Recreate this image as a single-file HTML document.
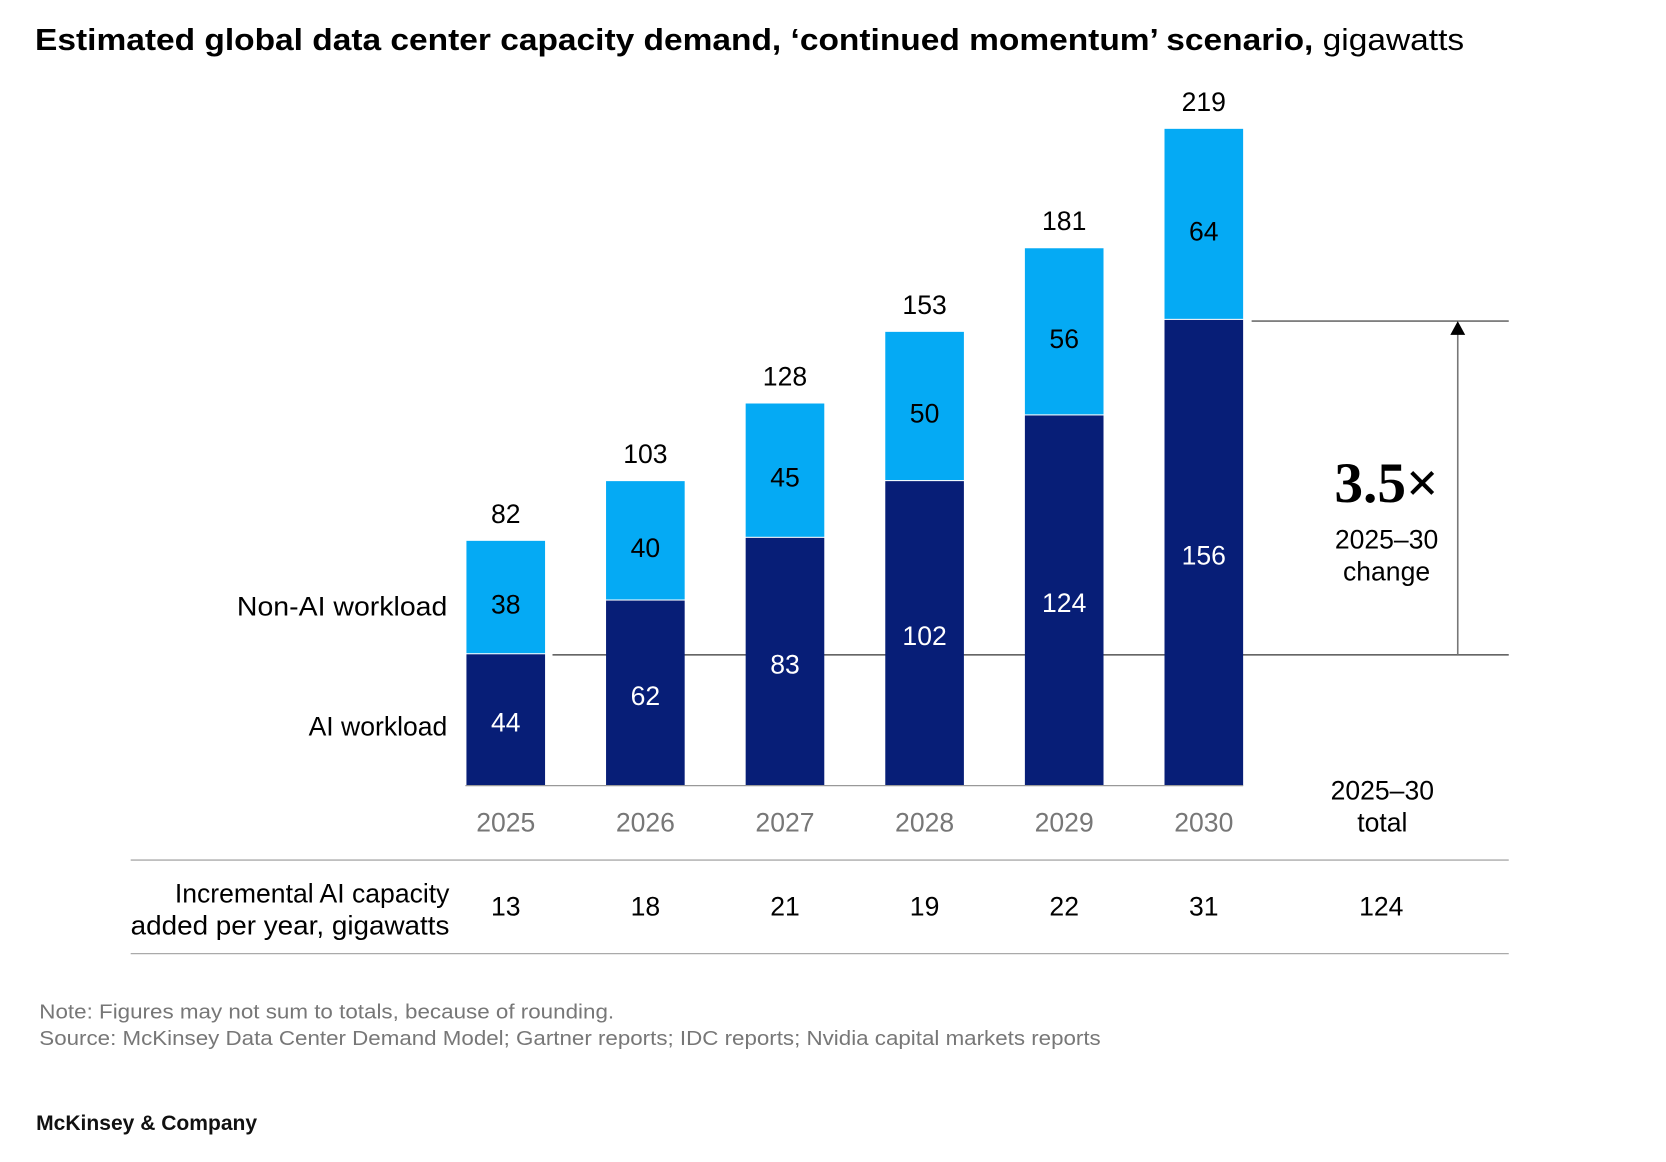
<!DOCTYPE html>
<html><head><meta charset="utf-8"><style>
html,body{margin:0;padding:0;background:#fff;}
svg{display:block;font-family:"Liberation Sans",sans-serif;}
</style></head><body>
<svg id="chart" width="1666" height="1162" viewBox="0 0 1568 1093" preserveAspectRatio="none" xmlns="http://www.w3.org/2000/svg">
<text x="33" y="47" font-size="29" textLength="1345" lengthAdjust="spacingAndGlyphs"><tspan font-weight="bold">Estimated global data center capacity demand, ‘continued momentum’ scenario,</tspan> gigawatts</text>
<line x1="520" y1="616" x2="1420" y2="616" stroke="#333" stroke-width="1.2"/>
<line x1="1178" y1="302" x2="1420" y2="302" stroke="#555" stroke-width="1.2"/>
<g id="bars"></g>
<line x1="438" y1="739" x2="1170" y2="739" stroke="#999" stroke-width="1.2"/>
<line x1="1372" y1="616" x2="1372" y2="310" stroke="#777" stroke-width="1.5"/>
<polygon points="1365,315 1379,315 1372,302" fill="#000"/>
<text x="1305" y="472" font-size="54" font-weight="bold" text-anchor="middle" font-family="Liberation Serif, serif">3.5×</text>
<text x="1305" y="516" font-size="25" text-anchor="middle">2025–30</text>
<text x="1305" y="546" font-size="25" text-anchor="middle">change</text>
<text x="421" y="579" font-size="25" text-anchor="end" textLength="198" lengthAdjust="spacingAndGlyphs">Non-AI workload</text>
<text x="421" y="692" font-size="25" text-anchor="end">AI workload</text>
<text x="1301" y="752" font-size="25" text-anchor="middle">2025–30</text>
<text x="1301" y="782" font-size="25" text-anchor="middle">total</text>
<line x1="123" y1="809" x2="1420" y2="809" stroke="#aaa" stroke-width="1.2"/>
<line x1="123" y1="897" x2="1420" y2="897" stroke="#aaa" stroke-width="1.2"/>
<text x="423" y="849" font-size="25" text-anchor="end">Incremental AI capacity</text>
<text x="423" y="879" font-size="25" text-anchor="end" textLength="300" lengthAdjust="spacingAndGlyphs">added per year, gigawatts</text>
<text x="1300" y="861" font-size="25" text-anchor="middle">124</text>
<text x="37" y="958" font-size="19" fill="#777" textLength="541" lengthAdjust="spacingAndGlyphs">Note: Figures may not sum to totals, because of rounding.</text>
<text x="37" y="983" font-size="19" fill="#777" textLength="999" lengthAdjust="spacingAndGlyphs">Source: McKinsey Data Center Demand Model; Gartner reports; IDC reports; Nvidia capital markets reports</text>
<text x="34" y="1063" font-size="20" font-weight="bold" fill="#111" textLength="208" lengthAdjust="spacingAndGlyphs">McKinsey &amp; Company</text>
</svg>
<script>
const years = ['2025','2026','2027','2028','2029','2030'];
const aiValues = [44, 62, 83, 102, 124, 156];
const nonAiValues = [38, 40, 45, 50, 56, 64];
const totals = [82, 103, 128, 153, 181, 219];
const increments = [13, 18, 21, 19, 22, 31];

const NS = 'http://www.w3.org/2000/svg';
const baseY = 739, pxPerUnit = 615 / 219, firstX = 476, step = 131.4, barW = 74;
const yScale = v => baseY - v * pxPerUnit;
const xScale = i => firstX + i * step;
const g = document.getElementById('bars');
const svg = document.getElementById('chart');
function mk(tag, attrs, parent) {
  const el = document.createElementNS(NS, tag);
  for (const k in attrs) el.setAttribute(k, attrs[k]);
  parent.appendChild(el);
  return el;
}
years.forEach((yr, i) => {
  const cx = xScale(i);
  const aiTop = yScale(aiValues[i]);
  const nonTop = yScale(aiValues[i] + nonAiValues[i]);
  const r1 = mk('rect', {x: cx - barW/2, y: aiTop, width: barW, height: baseY - aiTop, fill: '#071e77'}, g);
  
  
  const r2 = mk('rect', {x: cx - barW/2, y: nonTop, width: barW, height: aiTop - nonTop - 1, fill: '#05aaf4'}, g);
  
  
  const t1 = mk('text', {x: cx, y: (aiTop + baseY)/2 + 11, 'font-size': 25, 'text-anchor': 'middle', fill: '#fff'}, g);
  t1.textContent = aiValues[i];
  
  
  const t2 = mk('text', {x: cx, y: (nonTop + aiTop)/2 + 15, 'font-size': 25, 'text-anchor': 'middle', fill: '#000'}, g);
  t2.textContent = nonAiValues[i];
  
  
  const t3 = mk('text', {x: cx, y: nonTop - 17, 'font-size': 25, 'text-anchor': 'middle', fill: '#000'}, svg);
  t3.textContent = totals[i];
  
  
  const t4 = mk('text', {x: cx, y: 782, 'font-size': 25, 'text-anchor': 'middle', fill: '#777'}, svg);
  t4.textContent = yr;
  
  
  const t5 = mk('text', {x: cx, y: 861, 'font-size': 25, 'text-anchor': 'middle', fill: '#000'}, svg);
  t5.textContent = increments[i];
  
  
});
</script>
</body></html>
